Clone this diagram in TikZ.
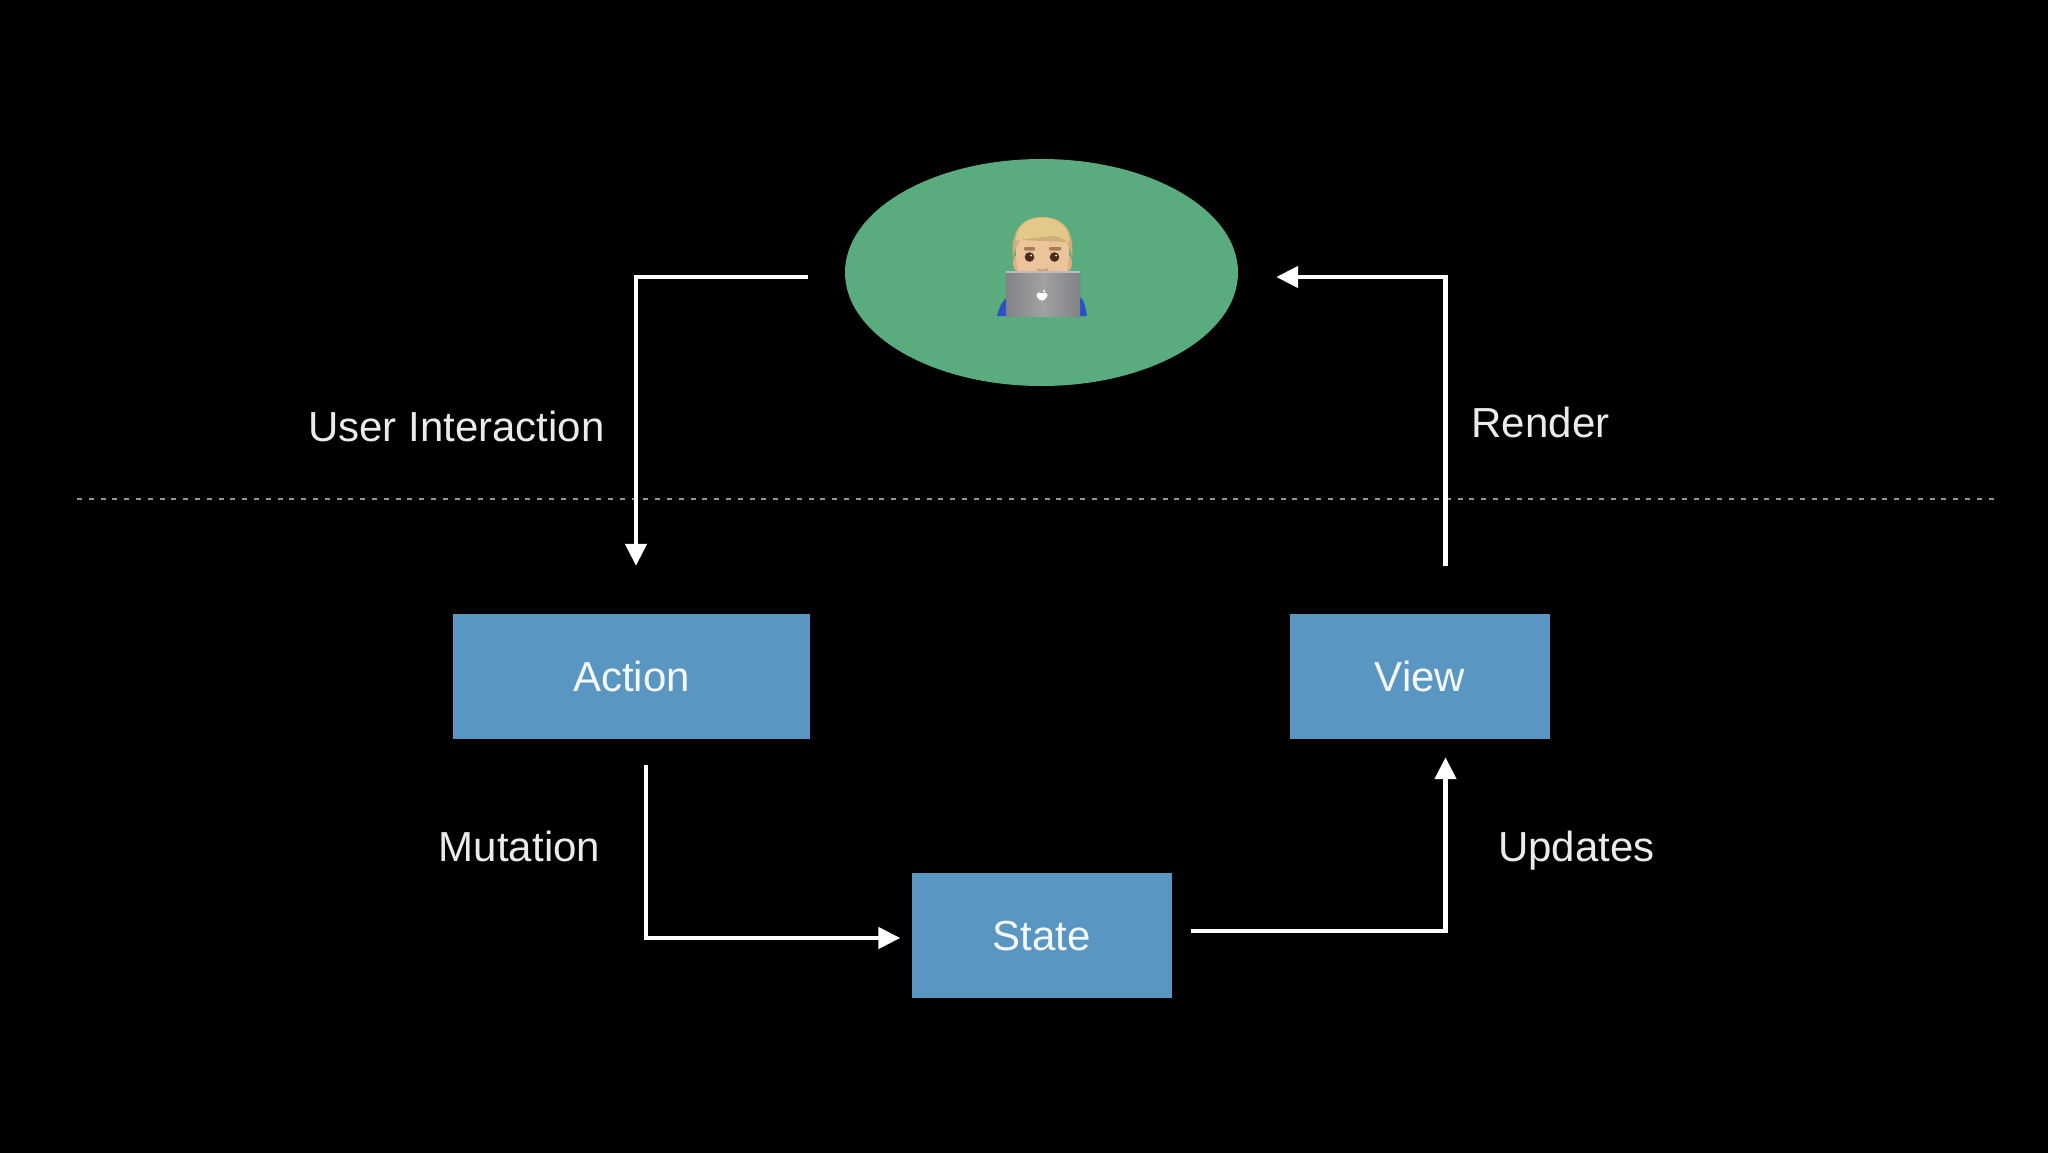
\documentclass[tikz,border=0pt]{standalone}
\usepackage{fontspec}
\setmainfont{Liberation Sans}
\usetikzlibrary{arrows.meta,shapes.geometric}
\definecolor{boxblue}{HTML}{5A96C2}
\definecolor{bubble}{HTML}{5AAB7E}
\definecolor{txt}{HTML}{EBEBEB}
\definecolor{hairc}{HTML}{E2C987}
\definecolor{hairside}{HTML}{CDAE78}
\definecolor{skin}{HTML}{EBC49C}
\definecolor{skinedge}{HTML}{DDAE82}
\definecolor{brow}{HTML}{A87A55}
\definecolor{eye}{HTML}{4A2C1C}
\definecolor{mouth}{HTML}{D79A7E}
\definecolor{lapa}{HTML}{818285}
\definecolor{lapb}{HTML}{A0A1A3}
\definecolor{shirt}{HTML}{2B50C8}
\tikzset{
  stage/.style={draw=none,fill=boxblue,inner sep=0pt,text=white!94!boxblue,text height=30pt,text depth=0pt,font=\fontsize{42}{42}\selectfont},
  caption/.style={anchor=base,inner sep=0pt,text=txt,font=\fontsize{42}{42}\selectfont},
  conn/.style={draw=white,line width=4.6pt,line join=miter,-{Triangle[length=22pt,width=21pt]}},
  divider/.style={draw=white!58!black,line width=2.8pt,dash pattern=on 5pt off 6.8pt}
}
\begin{document}
\begin{tikzpicture}[x=1pt,y=-1pt]
\useasboundingbox (0,0) rectangle (2048,1152);
\fill[black] (-6,-6) rectangle (2054,1158);
\coordinate (divl) at (77,499);
\coordinate (divr) at (1996,499);
\draw[divider] (divl) -- (divr);
% nodes
\node[ellipse,fill=bubble,inner sep=0pt,minimum width=393pt,minimum height=227pt] (user) at (1041.5,272.5) {};
\node[stage,minimum width=357pt,minimum height=125pt] (action) at (631.5,676.5) {Action};
\node[stage,minimum width=260pt,minimum height=125pt] (view) at (1420,676.5) {View};
\node[stage,minimum width=260pt,minimum height=125pt] (state) at (1041.5,935.5) {State};
% emoji
\begin{scope}
\fill[shirt] (997,316) .. controls (1000,305) and (1003,300) .. (1008,297) -- (1080,297) .. controls (1084,300) and (1085,305) .. (1087,316) -- cycle;
% ears and face
\fill[skinedge] (1017,263) ellipse (4pt and 8pt);
\fill[skinedge] (1068,263) ellipse (4pt and 8pt);
\fill[skin] (1016,236) .. controls (1015,262) and (1018,278) .. (1024,282) -- (1061,282) .. controls (1067,278) and (1070,262) .. (1069,236) -- cycle;
% hair
\fill[hairside] (1013,258) .. controls (1010,228) and (1024,217) .. (1042,217) .. controls (1062,217) and (1075,228) .. (1072,258) .. controls (1070,250) and (1069,246) .. (1067,242) -- (1020,240) .. controls (1017,245) and (1015,250) .. (1013,258) -- cycle;
\fill[hairc] (1016,241) .. controls (1015,227) and (1027,217.5) .. (1042,217.5) .. controls (1058,217.5) and (1071,228) .. (1069,243) .. controls (1063,238) and (1056,235) .. (1050,236) .. controls (1040,238) and (1026,238) .. (1016,241) -- cycle;
% brows and eyes
\fill[brow,rounded corners=1pt] (1024,247) rectangle (1035,250.5);
\fill[brow,rounded corners=1pt] (1049,247) rectangle (1061,250.5);
\fill[eye] (1029.5,257) circle (4.8pt);
\fill[eye] (1054.5,257) circle (4.8pt);
\fill[white] (1031,255.5) circle (1pt);
\fill[white] (1056,255.5) circle (1pt);
\fill[mouth] (1037,268) .. controls (1040,270) and (1045,270) .. (1048,268) -- (1048,272) -- (1037,272) -- cycle;
% laptop
\shade[left color=lapa,right color=lapa,middle color=lapb] (1006,271) rectangle (1080,316);
\fill[lapb!70!white] (1006,271) rectangle (1080,272.5);
\fill[white] (1039.5,295.5) circle (3pt);
\fill[white] (1044.5,295.5) circle (3pt);
\fill[white] (1042,298) ellipse (3.6pt and 2.6pt);
\fill[white] (1042.5,291.5) -- (1045,289) -- (1044.5,292) -- cycle;
\end{scope}
% connectors
\draw[conn] ([shift={(-37,4.5)}]user.west) -| ([shift={(4.5,-48)}]action.north);
\draw[conn] ([shift={(25.5,-48)}]view.north) |- ([shift={(38,4.5)}]user.east);
\draw[conn] ([shift={(14.5,26)}]action.south) |- ([shift={(-11,2.5)}]state.west);
\draw[conn] ([shift={(19,-4.5)}]state.east) -| ([shift={(25.5,18)}]view.south);
% captions
\node[caption] (l1) at (456.5,441) {User Interaction};
\node[caption] (l2) at (1540.5,437.5) {Render};
\node[caption] (l3) at (519.5,861) {Mutation};
\node[caption] (l4) at (1576.5,861) {Updates};
\end{tikzpicture}
\end{document}
